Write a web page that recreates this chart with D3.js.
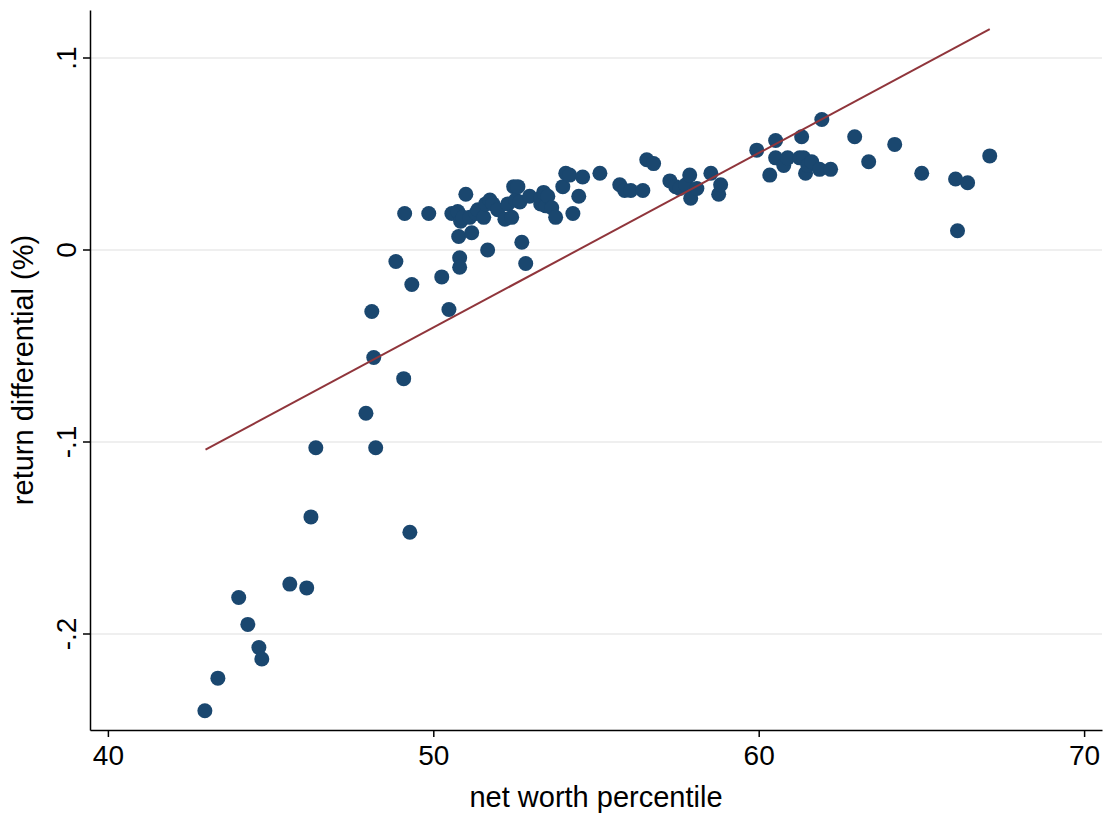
<!DOCTYPE html>
<html>
<head>
<meta charset="utf-8">
<script src="https://cdn.jsdelivr.net/npm/d3@7"></script>
<style>
  body { margin: 0; background: #fff; }
  text { font-family: "Liberation Sans", Arial, sans-serif; }
</style>
</head>
<body>
<script>
const xs = [42.98,43.38,44.02,44.30,44.64,44.73,45.59,46.11,46.24,46.39,47.93,48.11,48.17,48.23,48.85,49.09,49.12,49.28,49.34,49.86,
  50.26,50.48,50.57,50.75,50.78,50.81,50.81,50.84,50.91,51.00,51.12,51.18,51.31,51.37,51.55,51.61,51.67,51.74,51.83,51.98,
  52.20,52.29,52.41,52.47,52.53,52.60,52.66,52.72,52.84,52.96,53.30,53.30,53.39,53.46,53.52,53.64,53.76,53.98,54.07,54.19,
  54.29,54.47,54.59,55.12,55.73,55.88,56.07,56.44,56.56,56.77,57.27,57.45,57.57,57.76,57.88,57.91,58.10,58.53,58.77,58.83,
  59.94,60.34,60.52,60.52,60.77,60.89,61.26,61.32,61.38,61.44,61.51,61.63,61.94,61.87,62.21,62.95,63.38,64.18,65.01,66.05,
  66.11,66.42,67.10];
const ys = [-0.240,-0.223,-0.181,-0.195,-0.207,-0.213,-0.174,-0.176,-0.139,-0.103,-0.085,-0.032,-0.056,-0.103,-0.006,-0.067,0.019,-0.147,-0.018,0.019,
  -0.014,-0.031,0.019,0.020,0.007,-0.004,-0.009,0.015,0.017,0.029,0.017,0.009,0.019,0.021,0.017,0.024,0.000,0.026,0.024,0.021,
  0.016,0.024,0.017,0.033,0.026,0.033,0.025,0.004,-0.007,0.028,0.027,0.024,0.030,0.023,0.028,0.022,0.017,0.033,0.040,0.039,
  0.019,0.028,0.038,0.040,0.034,0.031,0.031,0.031,0.047,0.045,0.036,0.033,0.032,0.034,0.039,0.027,0.032,0.040,0.029,0.034,
  0.052,0.039,0.057,0.048,0.044,0.048,0.048,0.059,0.048,0.040,0.044,0.046,0.068,0.042,0.042,0.059,0.046,0.055,0.040,0.037,
  0.010,0.035,0.049];
const fitX = [43.0, 67.1];
const fitY = [-0.104, 0.115];
const xTicks = [40, 50, 60, 70];
const yTicks = [-0.2, -0.1, 0, 0.1];
const yLabels = ["-.2", "-.1", "0", ".1"];

const W = 1107, H = 814;
const m = { left: 90, right: 5, top: 10, bottom: 84 };
const svg = d3.select("body").append("svg").attr("width", W).attr("height", H);

const x = d3.scaleLinear().domain([39.45, 70.55]).range([m.left, W - m.right]);
const y = d3.scaleLinear().domain([-0.25, 0.125]).range([H - m.bottom, m.top]);

// grid
svg.append("g").selectAll("line").data(yTicks).join("line")
  .attr("x1", m.left).attr("x2", W - m.right)
  .attr("y1", d => y(d)).attr("y2", d => y(d))
  .attr("stroke", "#eaeaea").attr("stroke-width", 1.5);

// points
svg.append("g").selectAll("circle").data(xs).join("circle")
  .attr("cx", d => x(d)).attr("cy", (d, i) => y(ys[i]))
  .attr("r", 7.5).attr("fill", "#1a476f");

// fit line
svg.append("line")
  .attr("x1", x(fitX[0])).attr("y1", y(fitY[0]))
  .attr("x2", x(fitX[1])).attr("y2", y(fitY[1]))
  .attr("stroke", "#90353b").attr("stroke-width", 2);

// axes
const xAxis = svg.append("g").attr("transform", `translate(0,${H - m.bottom})`)
  .call(d3.axisBottom(x).tickValues(xTicks).tickSize(7).tickSizeOuter(0));
const yAxis = svg.append("g").attr("transform", `translate(${m.left},0)`)
  .call(d3.axisLeft(y).tickValues(yTicks).tickFormat((d, i) => yLabels[i]).tickSize(7).tickSizeOuter(0));
[xAxis, yAxis].forEach(g => {
  g.attr("font-size", 28).attr("font-family", "Liberation Sans, Arial, sans-serif");
  g.select(".domain").attr("stroke", "#000").attr("stroke-width", 1.5);
  g.selectAll(".tick line").attr("stroke", "#000").attr("stroke-width", 1.5);
  g.selectAll("text").attr("fill", "#000");
});
xAxis.selectAll("text").attr("dy", "0.9em");
yAxis.selectAll("text")
  .attr("transform", "rotate(-90)")
  .attr("x", d => -y(d)).attr("y", -14).attr("dy", 0)
  .attr("text-anchor", "middle");
yAxis.selectAll(".tick").attr("transform", null);
yAxis.selectAll(".tick line").attr("y1", d => y(d)).attr("y2", d => y(d));

// titles
svg.append("text").attr("x", (m.left + W - m.right) / 2).attr("y", 807)
  .attr("text-anchor", "middle").attr("font-size", 29).text("net worth percentile");
svg.append("text").attr("transform", `translate(33,${(m.top + H - m.bottom) / 2}) rotate(-90)`)
  .attr("text-anchor", "middle").attr("font-size", 29).text("return differential (%)");
</script>
</body>
</html>
